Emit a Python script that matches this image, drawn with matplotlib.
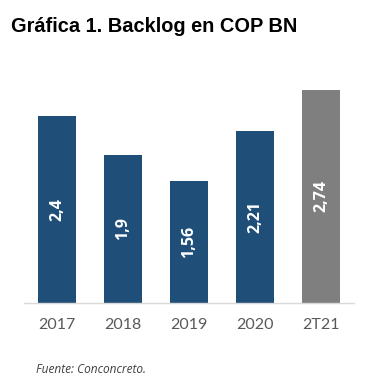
import matplotlib.pyplot as plt

categories = ["2017", "2018", "2019", "2020", "2T21"]
values = [2.4, 1.9, 1.56, 2.21, 2.74]
labels = ["2,4", "1,9", "1,56", "2,21", "2,74"]
colors = ["#1F4E79", "#1F4E79", "#1F4E79", "#1F4E79", "#7F7F7F"]

W, H = 367, 389
fig = plt.figure(figsize=(W / 100, H / 100), dpi=100)
# axes box in pixels: left 24, right 354, baseline y=303, top y=60
ax = fig.add_axes([24 / W, (H - 303) / H, 330 / W, 243 / H])

x = range(len(categories))
ax.bar(x, values, width=0.57, color=colors, zorder=2)
ax.set_xlim(-0.5, 4.5)
ax.set_ylim(0, 243 / 77.9)

for i, (v, lab) in enumerate(zip(values, labels)):
    ax.text(i, v / 2, lab, rotation=90, ha="center", va="center",
            color="white", fontsize=11.5, fontweight="bold", family="Open Sans")

ax.set_xticks(list(x))
ax.set_xticklabels(categories, family="Lato", fontsize=11.5, color="#595959")
ax.tick_params(axis="x", length=0, pad=11)
ax.set_yticks([])
for s in ["top", "right", "left"]:
    ax.spines[s].set_visible(False)
ax.spines["bottom"].set_color("#D9D9D9")
ax.spines["bottom"].set_linewidth(1)

fig.text(11 / W, 1 - 32 / H, "Gráfica 1. Backlog en COP BN", family="Liberation Sans",
         fontweight="bold", fontsize=14.4, color="black", va="baseline")
fig.text(36 / W, 1 - 373 / H, "Fuente: Conconcreto.", family="Open Sans",
         style="italic", fontsize=8.6, color="#404040", va="baseline")

fig.savefig("out.png", dpi=100)
